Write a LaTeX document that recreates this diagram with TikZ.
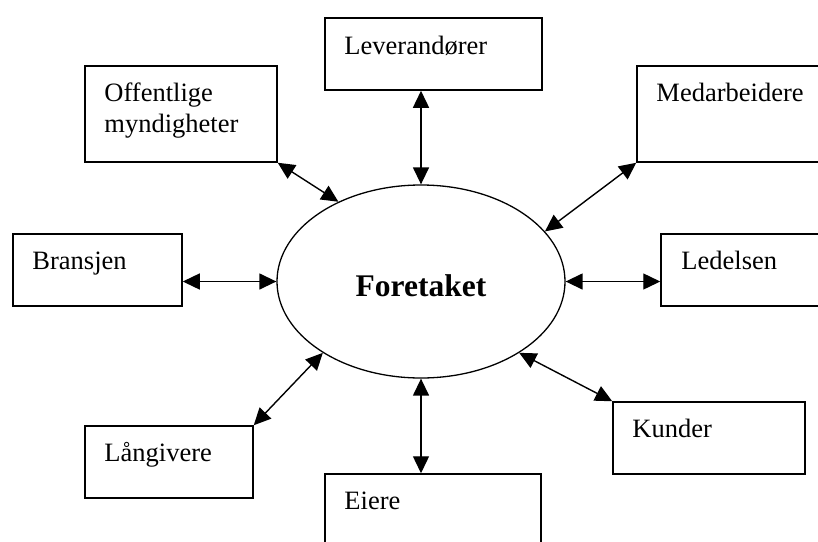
\documentclass[tikz,border=0pt]{standalone}
\usepackage{fontspec}
\setmainfont{Liberation Serif}
\usetikzlibrary{shapes.geometric,arrows.meta,calc}

\tikzset{
  box/.style={draw, line width=1.5pt, rectangle, inner sep=0pt},
  txt/.style={anchor=base west, inner sep=0pt, font=\fontsize{26.5}{31}\selectfont},
  link/.style={{Triangle[length=17pt,width=16pt]}-{Triangle[length=17pt,width=16pt]}, line width=1.4pt}
}

\begin{document}
\begin{tikzpicture}[x=1pt,y=-1pt]
\useasboundingbox (0,0) rectangle (818,541);

% the firm in the middle
\node[draw, ellipse, line width=1.3pt, inner sep=0pt, minimum width=288pt, minimum height=193pt,
      text height=30pt, text depth=0pt,
      font=\fontsize{31.5}{36}\selectfont\bfseries] (fore) at (421,281.5) {Foretaket};

% stakeholders
\node[box, minimum width=217pt, minimum height=72pt] (lev) at (433.5,54) {};
\node[txt] (levt) at ($(lev.north west)+(20,37)$) {Leverandører};

\node[box, minimum width=192pt, minimum height=96pt] (off) at (181,114) {};
\node[txt] (offt) at ($(off.north west)+(20,36)$) {\begin{tabular}[t]{@{}l@{}}Offentlige\\myndigheter\end{tabular}};

\node[box, minimum width=200pt, minimum height=96pt] (med) at (737,114) {};
\node[txt] (medt) at ($(med.north west)+(20,36)$) {Medarbeidere};

\node[box, minimum width=169pt, minimum height=72pt] (bra) at (97.5,270) {};
\node[txt] (brat) at ($(bra.north west)+(20,36)$) {Bransjen};

\node[box, minimum width=180pt, minimum height=72pt] (led) at (751,270) {};
\node[txt] (ledt) at ($(led.north west)+(21,36)$) {Ledelsen};

\node[box, minimum width=168pt, minimum height=72pt] (lan) at (169,462) {};
\node[txt] (lant) at ($(lan.north west)+(20,36)$) {Långivere};

\node[box, minimum width=192pt, minimum height=72pt] (kun) at (709,438) {};
\node[txt] (kunt) at ($(kun.north west)+(20,36)$) {Kunder};

\node[box, minimum width=216pt, minimum height=72pt] (eie) at (433,510) {};
\node[txt] (eiet) at ($(eie.north west)+(20,36)$) {Eiere};

% two-way links
\draw[link] (fore.north) -- (fore.north |- lev.south);
\draw[link] (off.south east) -- (fore.136);
\draw[link] (med.south west) -- (fore.22);
\draw[link] (bra.east |- fore.west) -- (fore.west);
\draw[link] (fore.east) -- (fore.east -| led.west);
\draw[link] (lan.north east) -- (fore.216);
\draw[link] (kun.north west) -- (fore.-36);
\draw[link] (fore.south) -- (fore.south |- eie.north);

\end{tikzpicture}
\end{document}
